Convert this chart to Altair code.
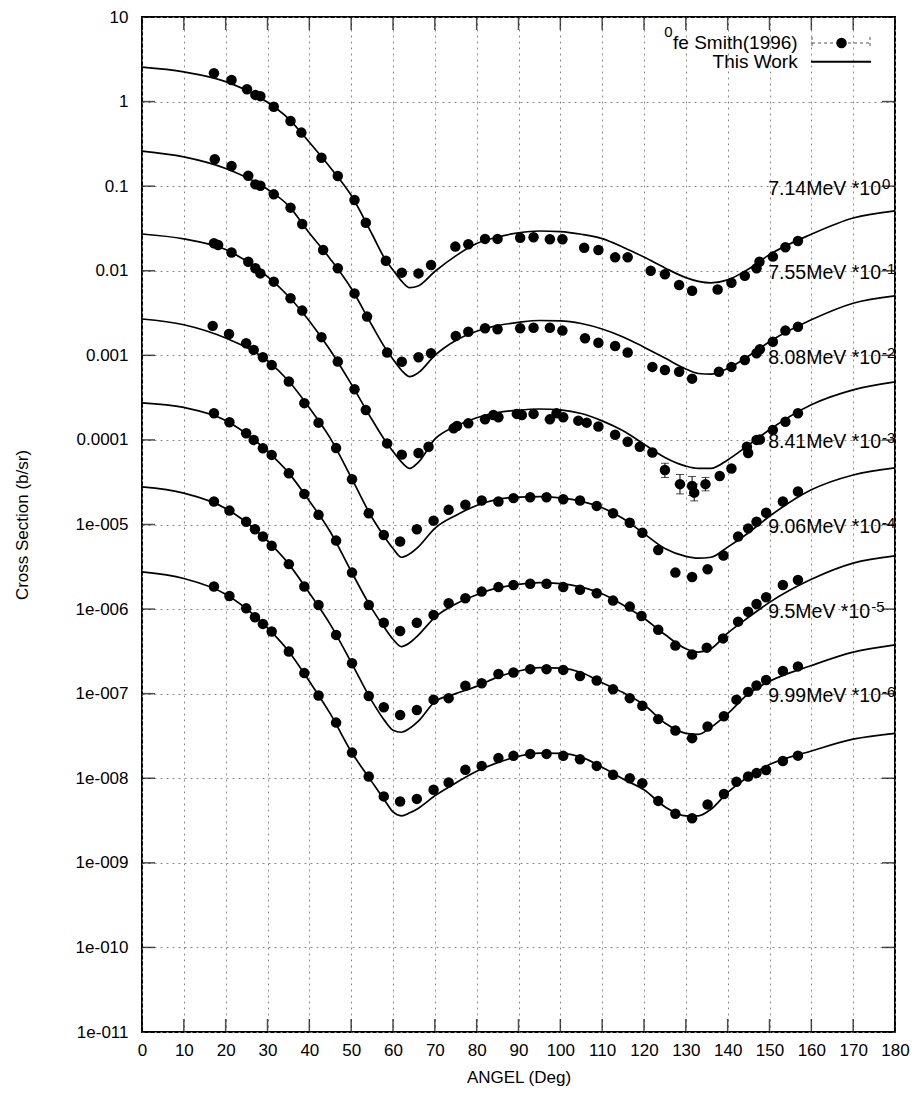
import altair as alt
import pandas as pd

FONT = "Liberation Sans"
W, H = 753, 1015

# ---------------- axes ----------------
X_TICKS = list(range(0, 181, 10))
Y_TICKS = [10, 1, 0.1, 0.01, 0.001, 0.0001, 1e-5, 1e-6, 1e-7, 1e-8, 1e-9, 1e-10, 1e-11]
Y_TICK_LABELS = ["10", "1", "0.1", "0.01", "0.001", "0.0001", "1e-005", "1e-006",
                 "1e-007", "1e-008", "1e-009", "1e-010", "1e-011"]

# ---------------- series meta ----------------
ENERGIES = ["7.14MeV", "7.55MeV", "8.08MeV", "8.41MeV", "9.06MeV", "9.5MeV", "9.99MeV"]
SCALE_EXP = [0, -1, -2, -3, -4, -5, -6]
SUPERS = ["0", "-1", "-2", "-3", "-4", "-5", "-6"]

# ---------------- This Work (theory curves, b/sr, unscaled) ----------------
TH_ANG = [0, 10, 20, 30, 35, 40, 45, 50, 55, 58, 60, 62, 64, 66, 70, 75, 80, 85, 90, 95,
          100, 105, 110, 115, 120, 125, 130, 133, 136, 140, 145, 150, 160, 170, 180]
TH_714 = [2.55, 2.24, 1.72, 0.98, 0.63, 0.33, 0.166, 0.078, 0.027, 0.0140,
          0.0102, 0.0076, 0.0063, 0.0066, 0.0098, 0.0150, 0.0210, 0.0250, 0.0280, 0.0295,
          0.0290, 0.0270, 0.0240, 0.0190, 0.0145, 0.0108, 0.0083, 0.0075, 0.0072, 0.0078,
          0.0105, 0.0155, 0.0270, 0.0420, 0.0510]
TH_755 = [2.60, 2.22, 1.62, 0.92, 0.59, 0.28, 0.138, 0.062, 0.0225, 0.0125,
          0.0090, 0.0067, 0.0056, 0.0062, 0.0100, 0.0150, 0.0193, 0.0225, 0.0245, 0.0258,
          0.0256, 0.0238, 0.0205, 0.0165, 0.0125, 0.0093, 0.0069, 0.0061, 0.0060, 0.0070,
          0.0098, 0.0145, 0.0263, 0.0413, 0.0504]
TH_808 = [2.72, 2.38, 1.78, 0.85, 0.50, 0.255, 0.115, 0.046, 0.0173, 0.0100,
          0.0073, 0.0055, 0.0046, 0.0054, 0.0102, 0.0145, 0.0183, 0.0210, 0.0225, 0.0232,
          0.0226, 0.0205, 0.0168, 0.0128, 0.0089, 0.0062, 0.0049, 0.0046, 0.0046, 0.0058,
          0.0087, 0.0132, 0.0260, 0.0390, 0.0485]
TH_841 = [2.69, 2.30, 1.60, 0.86, 0.50, 0.240, 0.105, 0.036, 0.0120, 0.0071,
          0.0052, 0.0041, 0.0045, 0.0054, 0.0090, 0.0128, 0.0168, 0.0198, 0.0211, 0.0214,
          0.0206, 0.0188, 0.0158, 0.0118, 0.0078, 0.0052, 0.0042, 0.0040, 0.0041, 0.0054,
          0.0080, 0.0125, 0.0257, 0.0385, 0.0467]
TH_906 = [2.74, 2.42, 1.70, 0.73, 0.41, 0.190, 0.082, 0.028, 0.0100, 0.0060,
          0.0044, 0.0036, 0.0040, 0.0049, 0.0080, 0.0115, 0.0148, 0.0178, 0.0196, 0.0205,
          0.0200, 0.0182, 0.0152, 0.0112, 0.0078, 0.0050, 0.0034, 0.0031, 0.0034, 0.0052,
          0.0080, 0.0120, 0.0225, 0.0350, 0.0426]
TH_950 = [2.78, 2.35, 1.55, 0.64, 0.345, 0.155, 0.066, 0.0235, 0.0081, 0.0048,
          0.0037, 0.0035, 0.0039, 0.0047, 0.0080, 0.0100, 0.0122, 0.0157, 0.0185, 0.0203,
          0.0200, 0.0178, 0.0135, 0.0103, 0.0074, 0.0045, 0.0034, 0.0033, 0.0040, 0.0058,
          0.0100, 0.0140, 0.0215, 0.0310, 0.0378]
TH_999 = [2.75, 2.30, 1.50, 0.60, 0.32, 0.140, 0.058, 0.0207, 0.0090, 0.0055,
          0.0040, 0.0036, 0.0039, 0.0044, 0.0062, 0.0088, 0.0121, 0.0153, 0.0182, 0.0198,
          0.0197, 0.0178, 0.0135, 0.0098, 0.0073, 0.0046, 0.0036, 0.0036, 0.0043, 0.0068,
          0.0105, 0.0145, 0.0210, 0.0290, 0.0340]
THEORY = [TH_714, TH_755, TH_808, TH_841, TH_906, TH_950, TH_999]

# ---------------- Smith (1996) data (b/sr, unscaled) ----------------
EX_ANG_714 = [17.2, 21.4, 25.1, 27.1, 28.3, 31.5, 35.5, 38.1, 42.9, 46.8, 50.8, 53.5, 58.3, 62.1,
              66.1, 69.1, 74.9, 78.0, 82.0, 85.0, 90.4, 93.6, 97.5, 100.5, 105.7, 109.1, 113.1,
              116.1, 121.6, 125.0, 128.4, 131.5, 137.6, 140.9, 144.1, 146.9, 147.6, 150.8,
              153.8, 156.8]
EX_VAL_714 = [2.16, 1.80, 1.40, 1.20, 1.16, 0.87, 0.59, 0.43, 0.217, 0.132, 0.0687, 0.037,
              0.0131, 0.0095, 0.0093, 0.0117, 0.0193, 0.0206, 0.0238, 0.0238, 0.0246, 0.0249,
              0.0236, 0.0236, 0.0187, 0.0176, 0.0144, 0.0144, 0.0100, 0.0091, 0.0068, 0.0058,
              0.0060, 0.0072, 0.0087, 0.0107, 0.0128, 0.0147, 0.0190, 0.0225]
EX_ANG_755 = [17.4, 21.4, 25.4, 27.1, 28.3, 31.5, 35.5, 38.3, 43.3, 46.8, 50.8, 53.8, 58.6, 62.1,
              66.1, 69.1, 75.0, 78.0, 82.0, 85.0, 90.4, 93.6, 97.5, 100.5, 105.9, 109.1, 113.1,
              116.1, 122.0, 125.0, 128.4, 131.5, 137.9, 140.9, 144.1, 146.9, 147.7, 150.8,
              153.8, 156.8]
EX_VAL_755 = [2.08, 1.73, 1.33, 1.05, 1.01, 0.80, 0.557, 0.357, 0.176, 0.107, 0.054, 0.0287,
              0.0108, 0.0084, 0.0095, 0.0106, 0.0169, 0.0190, 0.0209, 0.0203, 0.0209, 0.0212,
              0.0212, 0.0196, 0.0159, 0.0141, 0.0129, 0.0108, 0.0073, 0.0067, 0.0064, 0.0053,
              0.0064, 0.0073, 0.0088, 0.0106, 0.0118, 0.0145, 0.0196, 0.0218]
EX_ANG_808 = [17.2, 18.2, 21.4, 25.4, 27.1, 28.3, 31.5, 35.5, 38.3, 42.9, 46.8, 50.8, 53.5, 58.6,
              62.1, 66.1, 68.5, 74.5, 75.3, 78.0, 82.0, 84.0, 85.2, 89.6, 90.8, 93.6, 97.5, 99.1,
              100.7, 104.3, 106.3, 109.1, 113.1, 116.1, 119.0, 122.0, 125.0, 128.6, 131.5, 132.0,
              134.7, 138.1, 140.9, 144.6, 144.9, 146.9, 147.7, 150.8, 153.8, 156.8]
EX_VAL_808 = [2.11, 2.02, 1.64, 1.28, 1.07, 0.93, 0.743, 0.473, 0.338, 0.164, 0.0843, 0.0398,
              0.0226, 0.0091, 0.0067, 0.0070, 0.0083, 0.0137, 0.0146, 0.0157, 0.0175, 0.0197,
              0.0185, 0.0203, 0.0197, 0.0203, 0.0175, 0.0207, 0.0185, 0.0169, 0.0160, 0.0144,
              0.0115, 0.0095, 0.0083, 0.0071, 0.0044, 0.0030, 0.00286, 0.00238, 0.0030, 0.00375,
              0.0046, 0.0083, 0.0070, 0.0100, 0.0101, 0.0131, 0.0164, 0.0207]
EX_ANG_841 = [16.9, 20.8, 24.9, 26.7, 28.9, 31.0, 35.1, 38.8, 42.2, 46.4, 50.2, 54.2, 57.8, 61.7,
              65.7, 69.7, 73.3, 77.3, 81.2, 85.2, 88.8, 92.8, 96.7, 100.7, 104.7, 108.7, 112.6,
              116.6, 119.6, 123.4, 127.5, 131.5, 135.2, 139.0, 142.5, 144.9, 146.9, 149.2,
              153.2, 156.8]
EX_VAL_841 = [2.23, 1.79, 1.39, 1.16, 0.95, 0.77, 0.49, 0.272, 0.160, 0.080, 0.0343, 0.0136,
              0.0075, 0.0063, 0.0088, 0.0111, 0.0149, 0.0171, 0.0192, 0.0187, 0.0205, 0.0210,
              0.0210, 0.0199, 0.0192, 0.0166, 0.0136, 0.0105, 0.0080, 0.0050, 0.0027, 0.0024,
              0.00296, 0.0043, 0.0072, 0.0090, 0.0108, 0.0138, 0.0187, 0.0245]
EX_ANG_906 = [17.2, 20.9, 24.9, 26.7, 28.9, 31.0, 35.1, 38.8, 42.2, 46.4, 50.2, 54.2, 57.8, 61.7,
              65.7, 69.7, 73.3, 77.3, 81.2, 85.2, 88.8, 92.8, 96.7, 100.7, 104.7, 108.7, 112.6,
              116.6, 119.4, 123.4, 127.5, 131.5, 135.0, 138.9, 142.5, 144.9, 146.9, 149.2,
              153.2, 156.8]
EX_VAL_906 = [2.07, 1.62, 1.20, 1.00, 0.798, 0.665, 0.404, 0.230, 0.130, 0.0645, 0.027, 0.0112,
              0.0069, 0.0055, 0.0069, 0.0085, 0.0117, 0.0134, 0.0161, 0.0182, 0.0193, 0.0199,
              0.0199, 0.0182, 0.0169, 0.0154, 0.0126, 0.0107, 0.0083, 0.0057, 0.0037, 0.0029,
              0.0035, 0.0045, 0.0071, 0.0093, 0.0115, 0.0138, 0.0193, 0.0221]
EX_ANG_950 = [17.2, 20.9, 24.9, 27.0, 28.9, 31.0, 35.1, 38.8, 42.2, 46.4, 50.2, 54.2, 57.8, 61.7,
              65.7, 69.7, 73.3, 77.3, 81.2, 85.2, 88.8, 92.8, 96.7, 100.7, 104.7, 108.7, 112.6,
              116.6, 119.6, 123.4, 127.5, 131.5, 135.2, 139.1, 142.1, 144.9, 146.9, 149.2,
              153.2, 156.8]
EX_VAL_950 = [1.87, 1.46, 1.08, 0.88, 0.72, 0.56, 0.34, 0.185, 0.112, 0.0495, 0.0229, 0.0094,
              0.0069, 0.0056, 0.0064, 0.0085, 0.00885, 0.0124, 0.0133, 0.0171, 0.0178, 0.0195,
              0.0195, 0.0191, 0.0162, 0.0143, 0.0113, 0.00885, 0.0072, 0.0050, 0.00367, 0.00298,
              0.0041, 0.0054, 0.0085, 0.0105, 0.0125, 0.0145, 0.0185, 0.0210]
EX_ANG_999 = [17.2, 20.9, 24.9, 27.0, 28.9, 31.0, 35.1, 38.8, 42.2, 46.4, 50.2, 54.2, 57.8, 61.7,
              65.7, 69.7, 73.3, 77.3, 81.2, 85.2, 88.8, 92.8, 96.7, 100.7, 104.7, 108.7, 112.6,
              116.6, 119.6, 123.4, 127.5, 131.5, 135.2, 139.1, 142.1, 144.9, 146.9, 149.2,
              153.2, 156.8]
EX_VAL_999 = [1.85, 1.43, 1.02, 0.80, 0.668, 0.543, 0.315, 0.175, 0.095, 0.0455, 0.0201, 0.0105,
              0.0061, 0.0053, 0.0057, 0.0073, 0.0089, 0.0126, 0.0140, 0.0173, 0.0184, 0.0194,
              0.0194, 0.0184, 0.0168, 0.0140, 0.0110, 0.0100, 0.00875, 0.0054, 0.0038, 0.00337,
              0.0049, 0.0065, 0.0091, 0.0105, 0.0115, 0.0125, 0.0160, 0.0185]
EX_ANG = [EX_ANG_714, EX_ANG_755, EX_ANG_808, EX_ANG_841, EX_ANG_906, EX_ANG_950, EX_ANG_999]
EX_VAL = [EX_VAL_714, EX_VAL_755, EX_VAL_808, EX_VAL_841, EX_VAL_906, EX_VAL_950, EX_VAL_999]

# visible error bars (8.08 MeV set, unscaled b/sr)
ERR_ANG_808 = [125.0, 128.6, 131.5, 132.0, 134.7]
ERR_LO_808 = [0.0036, 0.0023, 0.0022, 0.0019, 0.0025]
ERR_HI_808 = [0.0053, 0.0039, 0.0037, 0.0030, 0.0036]

LABEL_ANGLE = 149.7
LEGEND_DATA = "fe Smith(1996)"
LEGEND_SUP = "0"
LEGEND_THEORY = "This Work"

# ---------------- build tables ----------------
curve_rows, pt_rows = [], []
for i in range(7):
    f = 10.0 ** SCALE_EXP[i]
    for a, v in zip(TH_ANG, THEORY[i]):
        curve_rows.append({"series": ENERGIES[i], "angle": a, "xs": v * f})
    for a, v in zip(EX_ANG[i], EX_VAL[i]):
        pt_rows.append({"series": ENERGIES[i], "angle": a, "xs": v * f})
curve_df = pd.DataFrame(curve_rows)
pt_df = pd.DataFrame(pt_rows)
f3 = 10.0 ** SCALE_EXP[2]
err_df = pd.DataFrame({"angle": ERR_ANG_808,
                       "xs": [v * f3 for v in ERR_LO_808],
                       "hi": [v * f3 for v in ERR_HI_808]})

# Arial / Liberation Sans advance widths (per 1000 em)
ADV = {**{d: 556 for d in "0123456789"}, ".": 278, "M": 833, "e": 556, "V": 667, " ": 278,
       "*": 389, "-": 333, "f": 278, "S": 667, "m": 833, "i": 222, "t": 278, "h": 556,
       "(": 333, ")": 333, "T": 611, "s": 500, "W": 944, "o": 556, "r": 333, "k": 500}


def text_w(s, fs):
    return sum(ADV.get(c, 556) for c in s) / 1000.0 * fs


LABEL_FS = 19.5
SUP_FS = 15
lab_text = [f"{e} *10" for e in ENERGIES]
lab_df = pd.DataFrame({
    "angle": [LABEL_ANGLE] * 7,
    "sup_angle": [LABEL_ANGLE + (text_w(t, LABEL_FS) + 1) * 180.0 / W for t in lab_text],
    "xs": [10.0 ** (e - 1) for e in SCALE_EXP],
    "text": lab_text,
    "sup": SUPERS,
})
xt_df = pd.DataFrame({"angle": X_TICKS})
yt_df = pd.DataFrame({"xs": Y_TICKS})

XS = alt.Scale(domain=[0, 180], nice=False, zero=False)
YS = alt.Scale(type="log", domain=[1e-11, 10], nice=False)

label_expr = "[" + ",".join(f"'{s}'" for s in Y_TICK_LABELS) + "][round(1 - log(datum.value)/LN10)]"

X_AXIS = alt.Axis(values=X_TICKS, title="ANGEL (Deg)", grid=True, gridDash=[2, 4],
                  gridColor="#8a8a8a", gridWidth=1, ticks=False, domain=False,
                  labelFont=FONT, labelFontSize=17, labelColor="black", labelPadding=10,
                  labelFlush=False, labelOverlap=False,
                  titleFont=FONT, titleFontSize=17, titleFontWeight="normal", titleColor="black",
                  titlePadding=11)
Y_AXIS = alt.Axis(values=Y_TICKS, title="Cross Section (b/sr)", grid=True, gridDash=[2, 4],
                  gridColor="#8a8a8a", gridWidth=1, ticks=False, domain=False,
                  labelFont=FONT, labelFontSize=17, labelColor="black", labelPadding=14,
                  labelExpr=label_expr, labelFlush=False, labelOverlap=False,
                  titleFont=FONT, titleFontSize=17, titleFontWeight="normal", titleColor="black",
                  titleX=-120, titleY=H / 2, titleAngle=-90, titleAlign="center",
                  titleBaseline="middle")


def X(field="angle"):
    return alt.X(f"{field}:Q", scale=XS, axis=X_AXIS, title="ANGEL (Deg)")


def Y(field="xs"):
    return alt.Y(f"{field}:Q", scale=YS, axis=Y_AXIS, title="Cross Section (b/sr)")


curves = alt.Chart(curve_df).mark_line(color="black", strokeWidth=1.7, interpolate="monotone").encode(
    x=X(), y=Y(), detail="series:N")
points = alt.Chart(pt_df).mark_circle(size=110, color="black", opacity=1).encode(x=X(), y=Y())
err_rules = alt.Chart(err_df).mark_rule(color="black", strokeWidth=1).encode(
    x=X(), y=Y(), y2="hi:Q")
err_lo = alt.Chart(err_df).mark_tick(orient="horizontal", size=8, thickness=1, color="black").encode(
    x=X(), y=Y())
err_hi = alt.Chart(err_df).mark_tick(orient="horizontal", size=8, thickness=1, color="black").encode(
    x=X(), y=Y("hi"))

TICK_LEN = 13
xt_bot = alt.Chart(xt_df).mark_tick(orient="vertical", size=TICK_LEN, thickness=1.5, color="black").encode(
    x=X(), y=alt.value(H - TICK_LEN / 2))
xt_top = alt.Chart(xt_df).mark_tick(orient="vertical", size=TICK_LEN, thickness=1.5, color="black").encode(
    x=X(), y=alt.value(TICK_LEN / 2))
yt_left = alt.Chart(yt_df).mark_tick(orient="horizontal", size=TICK_LEN, thickness=1.5, color="black").encode(
    y=Y(), x=alt.value(TICK_LEN / 2))
yt_right = alt.Chart(yt_df).mark_tick(orient="horizontal", size=TICK_LEN, thickness=1.5, color="black").encode(
    y=Y(), x=alt.value(W - TICK_LEN / 2))

labels = alt.Chart(lab_df).mark_text(align="left", baseline="alphabetic", font=FONT, fontSize=LABEL_FS,
                                     color="black", dy=8.5).encode(x=X(), y=Y(), text="text:N")
sups = alt.Chart(lab_df).mark_text(align="left", baseline="alphabetic", font=FONT, fontSize=SUP_FS,
                                   color="black", dy=3).encode(x=X("sup_angle"), y=Y(), text="sup:N")

# ---------------- key (top right) ----------------
one = pd.DataFrame({"k": [0]})
KEY_RIGHT = 655.7
leg_t1 = alt.Chart(one).mark_text(align="right", baseline="alphabetic", font=FONT, fontSize=19,
                                  color="black").encode(x=alt.value(KEY_RIGHT), y=alt.value(32),
                                                        text=alt.value(LEGEND_DATA))
leg_sup = alt.Chart(one).mark_text(align="right", baseline="alphabetic", font=FONT, fontSize=SUP_FS,
                                   color="black").encode(
    x=alt.value(KEY_RIGHT - text_w(LEGEND_DATA, 19) - 0.5), y=alt.value(20),
    text=alt.value(LEGEND_SUP))
leg_t2 = alt.Chart(one).mark_text(align="right", baseline="alphabetic", font=FONT, fontSize=19,
                                  color="black").encode(x=alt.value(KEY_RIGHT), y=alt.value(51),
                                                        text=alt.value(LEGEND_THEORY))
leg_h = alt.Chart(one).mark_rule(color="#555555", strokeWidth=1, strokeDash=[3, 3]).encode(
    x=alt.value(670), x2=alt.value(728), y=alt.value(26))
leg_l = alt.Chart(one).mark_rule(color="#555555", strokeWidth=1, strokeDash=[3, 3]).encode(
    x=alt.value(670), y=alt.value(20), y2=alt.value(32))
leg_r = alt.Chart(one).mark_rule(color="#555555", strokeWidth=1, strokeDash=[3, 3]).encode(
    x=alt.value(728), y=alt.value(20), y2=alt.value(32))
leg_dot = alt.Chart(one).mark_circle(size=110, color="black", opacity=1).encode(
    x=alt.value(699.5), y=alt.value(26))
leg_line = alt.Chart(one).mark_rule(color="black", strokeWidth=2).encode(
    x=alt.value(669), x2=alt.value(729), y=alt.value(44.7))

chart = alt.layer(
    curves, points, err_rules, err_lo, err_hi,
    xt_bot, xt_top, yt_left, yt_right,
    labels, sups,
    leg_t1, leg_sup, leg_t2, leg_h, leg_l, leg_r, leg_dot, leg_line,
).properties(
    width=W, height=H,
    autosize=alt.AutoSizeParams(type="none"),
    padding={"left": 142, "top": 17, "right": 21, "bottom": 66},
    background="white",
).configure_view(stroke="black", strokeWidth=2)

chart.save("out.html", embed_options={"renderer": "svg", "actions": False})
